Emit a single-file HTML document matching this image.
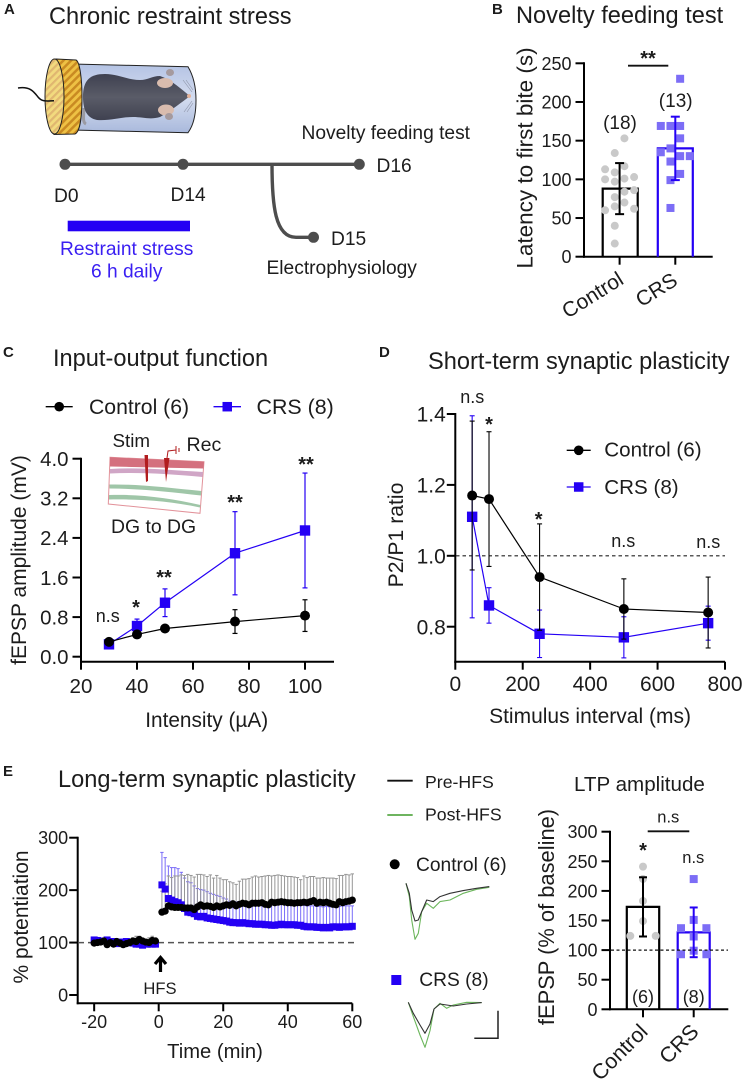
<!DOCTYPE html>
<html lang="en">
<head>
<meta charset="utf-8">
<title>Chronic restraint stress figure</title>
<style>
html,body{margin:0;padding:0;background:#fff;width:744px;height:1087px;overflow:hidden}
svg{display:block;filter:blur(.3px)}
text{font-family:"Liberation Sans",Arial,sans-serif;fill:#1c1c1c}
</style>
</head>
<body>
<svg id="fig" xmlns="http://www.w3.org/2000/svg" width="744" height="1087" viewBox="0 0 744 1087">
<defs>
<pattern id="capStripes" width="5.4" height="5.4" patternUnits="userSpaceOnUse" patternTransform="rotate(45)"><rect width="5.4" height="5.4" fill="#eec144"/><rect width="2.5" height="5.4" fill="#c98a22"/></pattern>
<pattern id="faceStripes" width="5" height="5" patternUnits="userSpaceOnUse" patternTransform="rotate(45)"><rect width="5" height="5" fill="#f2da7e"/><rect width="2.2" height="5" fill="#e0b670"/></pattern>
<linearGradient id="tubeFill" x1="0" y1="0" x2="0" y2="1"><stop offset="0" stop-color="#b4c3e4"/><stop offset=".5" stop-color="#d4dcef"/><stop offset="1" stop-color="#a9b9dc"/></linearGradient>
<linearGradient id="mouseFill" x1="0" y1="0" x2="0" y2="1"><stop offset="0" stop-color="#3f4150"/><stop offset=".5" stop-color="#5a5c68"/><stop offset="1" stop-color="#3f4150"/></linearGradient>
</defs>

<!-- Panel letters and titles -->
<g font-weight="bold" font-size="15">
<text x="4" y="14">A</text>
<text x="492" y="14">B</text>
<text x="3" y="357">C</text>
<text x="379" y="357">D</text>
<text x="3" y="776">E</text>
</g>
<g font-size="23.6">
<text x="49" y="24">Chronic restraint stress</text>
<text x="516" y="23">Novelty feeding test</text>
<text x="53" y="366">Input-output function</text>
<text x="428" y="369">Short-term synaptic plasticity</text>
<text x="58" y="787">Long-term synaptic plasticity</text>
<text x="574" y="791" font-size="20.6">LTP amplitude</text>
</g>

<!-- Panel A illustration -->
<g>
<path d="M72 64 L188 66.7 Q196 80 196 100 Q196 122 188 132.7 L72 130 Z" fill="url(#tubeFill)" stroke="#222" stroke-width="1"/>
<path d="M84 108 C84 115 82 122 86 124" fill="none" stroke="#9a9aa2" stroke-width="3"/>
<path d="M83 97 C83 80 90 74 105 74 C118 74 128 80 140 80 C148 80 152 76 160 76 C172 80 182 90 190 96 C182 102 172 110 160 117 C150 120 143 117 133 117 C120 117 110 121 97 120 C87 118 83 110 83 97Z" fill="url(#mouseFill)"/>
<ellipse cx="165" cy="83" rx="8" ry="5" fill="#d9bcae"/>
<ellipse cx="166" cy="110" rx="8" ry="5.5" fill="#d9bcae"/>
<ellipse cx="170" cy="72.5" rx="4" ry="3.5" fill="#a59a9e"/>
<ellipse cx="169" cy="116.5" rx="4" ry="3.5" fill="#a59a9e"/>
<circle cx="189" cy="96" r="2" fill="#e3b299"/>
<path d="M183 80 L192 92 M186 80 L193 90 M184 112 L192 101 M187 112 L193 103" stroke="#8d94a8" stroke-width=".6" fill="none"/>
<path d="M56 59 L76 60 C80 62 82 80 82 97 C82 116 80 132 75 134 L54 134.5 Z" fill="url(#capStripes)" stroke="#222" stroke-width="1"/>
<ellipse cx="54.5" cy="96.5" rx="9.5" ry="37.5" fill="url(#faceStripes)" stroke="#222" stroke-width="1"/>
<path d="M18 88 C30 86 34 92 38 97 C42 102 46 101 54 100.7" fill="none" stroke="#111" stroke-width="1.5"/>
</g>

<!-- Panel A timeline -->
<g>
<line x1="65" y1="164.3" x2="359" y2="164.3" stroke="#4d4d4d" stroke-width="3.4"/>
<path d="M272 164 C272 205 275 237.3 296 237.3 L313 237.3" fill="none" stroke="#4d4d4d" stroke-width="3.4"/>
<circle cx="65" cy="164.3" r="5.5" fill="#4d4d4d"/>
<circle cx="183" cy="164.3" r="5.5" fill="#4d4d4d"/>
<circle cx="359.3" cy="164.3" r="5.5" fill="#4d4d4d"/>
<circle cx="313.5" cy="237.3" r="5.5" fill="#4d4d4d"/>
<g font-size="19.2">
<text x="54" y="202">D0</text>
<text x="170.5" y="201">D14</text>
<text x="376.5" y="172">D16</text>
<text x="331" y="245">D15</text>
<text x="301.5" y="139">Novelty feeding test</text>
<text x="266.5" y="274">Electrophysiology</text>
</g>
<rect x="67.7" y="220.7" width="122.3" height="10.6" fill="#2400f4"/>
<text x="126.7" y="255" font-size="19.2" text-anchor="middle" style="fill:#3a1ff2">Restraint stress</text>
<text x="126.7" y="277.5" font-size="19.2" text-anchor="middle" style="fill:#3a1ff2">6 h daily</text>
</g>

<!-- Axis titles -->
<g>
<text transform="translate(532.5 158) rotate(-90)" font-size="22.5" text-anchor="middle">Latency to first bite (s)</text>
<text transform="translate(26 560) rotate(-90)" font-size="21" text-anchor="middle">fEPSP amplitude (mV)</text>
<text x="206.7" y="727" font-size="20.8" text-anchor="middle">Intensity (µA)</text>
<text transform="translate(403 535) rotate(-90)" font-size="21.2" text-anchor="middle">P2/P1 ratio</text>
<text x="590" y="723" font-size="21" text-anchor="middle">Stimulus interval (ms)</text>
<text transform="translate(28 917) rotate(-90)" font-size="21" text-anchor="middle">% potentiation</text>
<text x="215" y="1058" font-size="20.2" text-anchor="middle">Time (min)</text>
<text transform="translate(554 917) rotate(-90)" font-size="21.9" text-anchor="middle">fEPSP (% of baseline)</text>
</g>

<!-- Panel B annotations -->
<g>
<line x1="628" y1="65.7" x2="668.3" y2="65.7" stroke="#111" stroke-width="1.8"/>
<text x="648" y="65" font-size="20" font-weight="bold" text-anchor="middle">**</text>
<text x="620" y="129" font-size="19" text-anchor="middle">(18)</text>
<text x="675.7" y="107" font-size="19" text-anchor="middle">(13)</text>
</g>

<!-- Panel C inset and annotations -->
<g>
<path d="M110 457.3 L204 461.7 L200 513.3 L108.3 504 Z" fill="#fff" stroke="#e2929a" stroke-width="1"/>
<path d="M110 457.3 L204 461.7 L203.5 468.5 L110 466.5 Z" fill="#d4707e"/>
<path d="M110 469 C140 467 170 470 203 472 L202.5 477 C170 474 140 472 110 473.5 Z" fill="#d0a6c6"/>
<path d="M109.5 484.5 C140 484 170 488 201.5 491 L201 495.5 C170 492 140 488.5 109.5 488.5 Z" fill="#9fc6a8"/>
<path d="M109 495 C140 494 170 498 200.5 505 L200 507.5 C170 501 140 499 109 499.5 Z" fill="#9fc6a8"/>
<path d="M144.5 455 L148 455 L148 481 L146 482 Z" fill="#b11c1e"/>
<path d="M164 458 L169.5 458 L166 482 Z" fill="#b11c1e"/>
<path d="M167 458 L168 451 L176 450 M176 446 L176 454 M179 448 L179 452" fill="none" stroke="#b11c1e" stroke-width="1"/>
<text x="112.5" y="447" font-size="18.8">Stim</text>
<text x="186.5" y="451" font-size="19.6">Rec</text>
<text x="111" y="533" font-size="19.4">DG to DG</text>
</g>
<g>
<text x="107.7" y="622" font-size="18" text-anchor="middle">n.s</text>
<text x="136" y="614" font-size="20" font-weight="bold" text-anchor="middle">*</text>
<text x="164" y="584" font-size="20" font-weight="bold" text-anchor="middle">**</text>
<text x="235" y="509" font-size="20" font-weight="bold" text-anchor="middle">**</text>
<text x="306" y="471" font-size="20" font-weight="bold" text-anchor="middle">**</text>
</g>

<!-- Panel D annotations -->
<g>
<text x="472.3" y="403" font-size="18" text-anchor="middle">n.s</text>
<text x="489" y="431" font-size="20" font-weight="bold" text-anchor="middle">*</text>
<text x="538.7" y="526" font-size="20" font-weight="bold" text-anchor="middle">*</text>
<text x="623.3" y="547" font-size="18" text-anchor="middle">n.s</text>
<text x="708.3" y="548" font-size="18" text-anchor="middle">n.s</text>
</g>

<!-- Panel E annotations -->
<g>
<path d="M160.5 958 L160.5 972 M155 964 L160.5 957.5 L166 964" fill="none" stroke="#000" stroke-width="3.2"/>
<text x="160" y="994" font-size="16.6" text-anchor="middle">HFS</text>
</g>

<!-- Trace legend -->
<g>
<line x1="387.3" y1="780.7" x2="412.7" y2="780.7" stroke="#111" stroke-width="1.8"/>
<text x="425" y="788" font-size="17.7">Pre-HFS</text>
<line x1="387.3" y1="815" x2="412.7" y2="815" stroke="#5aaa48" stroke-width="1.8"/>
<text x="425" y="820.7" font-size="17.7">Post-HFS</text>
<circle cx="394.7" cy="864.3" r="5" fill="#000"/>
<text x="416" y="871" font-size="19.2">Control (6)</text>
<rect x="391.3" y="975" width="10" height="10" fill="#2400f4"/>
<text x="419.3" y="986" font-size="19.2">CRS (8)</text>
<path d="M498 1010.7 L498 1038.3 L474.3 1038.3" fill="none" stroke="#222" stroke-width="1.5"/>
</g>

<!-- LTP annotations -->
<g>
<line x1="647.7" y1="831.3" x2="689.3" y2="831.3" stroke="#111" stroke-width="1.8"/>
<text x="668.3" y="822.5" font-size="16.5" text-anchor="middle">n.s</text>
<text x="643" y="857" font-size="20" font-weight="bold" text-anchor="middle">*</text>
<text x="693.3" y="863" font-size="16.5" text-anchor="middle">n.s</text>
<text x="643" y="1003" font-size="18" text-anchor="middle">(6)</text>
<text x="693.7" y="1003" font-size="18" text-anchor="middle">(8)</text>
</g>
</svg>

<script>
/* ---------- Panel B data ---------- */
const bCategories = ['Control', 'CRS'];
const bMeans = [88, 140];
const bErrors = [33, 41];
const bControlPoints = [153, 134, 113, 117, 109, 103, 100, 97, 101, 86, 84, 77, 60, 70, 62, 40, 17, 65];
const bControlColumns = [0.5, -0.5, -1.5, 0.5, -0.5, 1.5, -1.5, -0.5, 0.5, 1.5, 0.5, -0.5, -1.5, 0.5, 1.5, -0.5, -0.5, -0.5];
const bCrsPoints = [230, 169, 169, 169, 153, 140, 135, 130, 130, 123, 107, 99, 63];
const bCrsColumns = [0.5, -1.5, -0.5, 0.5, 0.5, -0.5, -1.5, 0.5, 1.5, -0.5, 0.5, -0.5, -0.5];
const bYTicks = ['0', '50', '100', '150', '200', '250'];

/* ---------- Panel C data ---------- */
const cIntensity = [30, 40, 50, 75, 100];
const cControl = [0.30, 0.45, 0.57, 0.71, 0.83];
const cControlErr = [0.05, 0.05, 0.05, 0.24, 0.32];
const cCrs = [0.25, 0.62, 1.09, 2.09, 2.55];
const cCrsErr = [0.05, 0.14, 0.28, 0.84, 1.16];
const cXTicks = ['20', '40', '60', '80', '100'];
const cYTicks = ['0.0', '0.8', '1.6', '2.4', '3.2', '4.0'];
const cLegend = ['Control (6)', 'CRS (8)'];

/* ---------- Panel D data ---------- */
const dInterval = [50, 100, 250, 500, 750];
const dControl = [1.17, 1.16, 0.94, 0.85, 0.84];
const dControlErr = [0.21, 0.19, 0.15, 0.085, 0.10];
const dCrs = [1.11, 0.86, 0.78, 0.77, 0.81];
const dCrsErr = [0.285, 0.05, 0.067, 0.058, 0.048];
const dXTicks = ['0', '200', '400', '600', '800'];
const dYTicks = ['0.8', '1.0', '1.2', '1.4'];
const dLegend = ['Control (6)', 'CRS (8)'];

/* ---------- Panel E time-course data ---------- */
const eTimeBase = [-20,-19,-18,-17,-16,-15,-14,-13,-12,-11,-10,-9,-8,-7,-6,-5,-4,-3,-2,-1];
const eControlBase = [99,100,101,103,96,100,97,102,99,96,98,100,103,102,106,103,101,100,104,103];
const eControlBaseErr = [4,4,5,4,5,4,5,4,5,4,5,5,6,10,6,5,5,9,8,6];
const eCrsBase = [105,104,103,103,105,102,102,98,101,100,102,100,99,97,97,95,97,98,97,97];
const eCrsBaseErr = [4,4,4,4,4,4,4,4,4,4,4,4,4,4,4,4,4,4,4,4];
const eTimePost = [1,2,3,4,5,6,7,8,9,10,11,12,13,14,15,16,17,18,19,20,21,22,23,24,25,26,27,28,29,30,31,32,33,34,35,36,37,38,39,40,41,42,43,44,45,46,47,48,49,50,51,52,53,54,55,56,57,58,59,60];
const eControlPost = [158,160,170,168,167,167,167,166,166,166,163,168,172,169,170,169,167,170,168,170,172,171,174,170,173,175,174,172,175,175,175,176,173,172,177,176,177,178,177,176,176,175,176,176,177,176,178,180,175,177,176,177,175,173,172,178,176,178,179,181];
const eControlPostErr = [40,52,57,56,60,60,62,62,64,62,62,62,58,60,56,60,56,58,55,50,48,45,40,41,44,46,47,50,50,52,50,50,54,56,50,52,52,50,50,50,50,50,48,44,50,48,48,46,48,46,48,46,48,50,50,50,52,52,50,50];
const eCrsPost = [210,202,184,181,178,176,172,165,158,157,155,150,149,150,147,146,145,144,143,142,141,139,138,138,137,138,137,136,136,135,135,135,134,134,133,133,134,135,134,134,134,134,133,133,131,130,130,130,129,129,128,129,128,130,130,129,130,130,130,131];
const eCrsPostErr = [62,60,62,62,65,65,62,58,58,57,53,53,52,50,50,48,47,46,45,43,42,40,40,40,40,40,40,40,40,40,40,40,40,40,40,40,40,40,40,40,40,40,40,40,40,40,40,40,40,40,40,40,40,40,40,40,40,40,40,39];
const eXTicks = ['-20', '0', '20', '40', '60'];
const eYTicks = ['0', '100', '200', '300'];

/* ---------- Example trace data (ms, arbitrary amplitude units) ---------- */
const traceControlTime = [0,10,17,27,37,47,62,82,102,132,172,212,250];
const traceControlPre  = [0,30,80,113,110,85,50,55,40,30,22,15,10];
const traceControlPost = [0,40,110,168,150,85,60,75,55,50,30,18,12];
const traceCrsTime = [0,15,35,50,65,77,95,115,135,175,220];
const traceCrsPre  = [0,33,68,93,65,20,5,8,11,5,1];
const traceCrsPost = [0,43,98,135,85,20,3,18,8,0,1];

/* ---------- LTP data ---------- */
const ltpCategories = ['Control', 'CRS'];
const ltpMeans = [173, 130];
const ltpErrors = [50, 42];
const ltpControlPoints = [241, 220, 183, 149, 124, 124];
const ltpControlColumns = [0, 0, 0, 0, -1, 1];
const ltpCrsPoints = [220, 151, 137, 137, 123, 99, 93, 93];
const ltpCrsColumns = [0, 0, -1, 1, 0, 0, -1, 1];
const ltpYTicks = ['0', '50', '100', '150', '200', '250', '300'];

/* ---------- Helpers ---------- */
const SVGNS = 'http://www.w3.org/2000/svg';
const fig = document.getElementById('fig');
const BLUE = '#2400f4';
const DOT_BLUE = '#7c6df6';
const DOT_GREY = '#c9c9c9';

function add(tag, attrs) {
  const el = document.createElementNS(SVGNS, tag);
  for (const k in attrs) el.setAttribute(k, attrs[k]);
  fig.appendChild(el);
  return el;
}
function linear(d0, d1, r0, r1) {
  return v => r0 + (v - d0) * (r1 - r0) / (d1 - d0);
}

function drawYAxis(sy, ticks, axisX, topY, bottomY, fontSize, labelGap) {
  const axis = add('line', {x1: axisX, x2: axisX, y1: topY - 1, y2: bottomY + 1, stroke: '#000', 'stroke-width': 2});
  
  
  ticks.forEach(label => {
    const y = sy(parseFloat(label));
    const tick = add('line', {x1: axisX - 8.5, x2: axisX, y1: y, y2: y, stroke: '#000', 'stroke-width': 2});
    
    
    const t = add('text', {x: axisX - labelGap, y: y + fontSize * 0.36, 'font-size': fontSize, 'text-anchor': 'end'});
    t.textContent = label;
    
    
  });
}
function drawXAxis(sx, ticks, axisY, leftX, rightX, fontSize, labelY) {
  const axis = add('line', {x1: leftX - 1, x2: rightX, y1: axisY, y2: axisY, stroke: '#000', 'stroke-width': 2});
  
  
  ticks.forEach(label => {
    const x = sx(parseFloat(label));
    const tick = add('line', {x1: x, x2: x, y1: axisY, y2: axisY + 8, stroke: '#000', 'stroke-width': 2});
    
    
    const t = add('text', {x: x, y: labelY, 'font-size': fontSize, 'text-anchor': 'middle'});
    t.textContent = label;
    
    
  });
}
function drawDashedRef(y, x1, x2, color, width, dash) {
  const l = add('line', {x1: x1, x2: x2, y1: y, y2: y, stroke: color, 'stroke-width': width, 'stroke-dasharray': dash});
  
  
}
function drawErr(x, yTop, yBot, color, width, cap) {
  const v = add('line', {x1: x, x2: x, y1: yTop, y2: yBot, stroke: color, 'stroke-width': width});
  
  
  [yTop, yBot].forEach(y => {
    const c = add('line', {x1: x - cap, x2: x + cap, y1: y, y2: y, stroke: color, 'stroke-width': width});
    
    
  });
}
function drawCircle(x, y, r, fill) {
  const c = add('circle', {cx: x, cy: y, r: r, fill: fill});
  
  
}
function drawSquare(x, y, size, fill) {
  const s = add('rect', {x: x - size / 2, y: y - size / 2, width: size, height: size, fill: fill});
  
  
}
function drawLine(xs, ys, sx, sy, color, width) {
  const pts = xs.map((x, i) => sx(x).toFixed(1) + ',' + sy(ys[i]).toFixed(1)).join(' ');
  const p = add('polyline', {points: pts, fill: 'none', stroke: color, 'stroke-width': width, 'stroke-linejoin': 'round'});
  
  
}
function drawSeries(xs, ys, errs, sx, sy, color, shape, errWidth) {
  xs.forEach((x, i) => drawErr(sx(x), sy(ys[i] + errs[i]), sy(ys[i] - errs[i]), color, errWidth, 2.5));
  drawLine(xs, ys, sx, sy, color, 1.2);
  xs.forEach((x, i) => {
    if (shape === 'circle') drawCircle(sx(x), sy(ys[i]), 5, color);
    else drawSquare(sx(x), sy(ys[i]), 10.4, color);
  });
}
function drawLegendEntry(x1, x2, y, textX, textY, fontSize, label, color, shape) {
  const l = add('line', {x1: x1, x2: x2, y1: y, y2: y, stroke: color, 'stroke-width': 1.3});
  
  
  if (shape === 'circle') drawCircle((x1 + x2) / 2, y, 4.8, color);
  else drawSquare((x1 + x2) / 2, y, 9.5, color);
  const t = add('text', {x: textX, y: textY, 'font-size': fontSize});
  t.textContent = label;
  
  
}
function drawBar(cx, halfWidth, value, sy, color) {
  const b = add('path', {d: 'M' + (cx - halfWidth) + ' ' + sy(0) + ' V' + sy(value) + ' H' + (cx + halfWidth) + ' V' + sy(0), fill: 'none', stroke: color, 'stroke-width': 2.2});
  
  
}
function drawCategoryTick(cx, axisY, label, endX, endY, angle, fontSize) {
  const tick = add('line', {x1: cx, x2: cx, y1: axisY, y2: axisY + 8, stroke: '#000', 'stroke-width': 2});
  
  
  const t = add('text', {transform: 'translate(' + endX + ' ' + endY + ') rotate(' + angle + ')', 'font-size': fontSize, 'text-anchor': 'end'});
  t.textContent = label;
  
  
}
function drawTrace(xs, ys, sx, sy, color) {
  const pts = xs.map((x, i) => sx(x).toFixed(1) + ',' + sy(ys[i]).toFixed(1)).join(' ');
  const p = add('polyline', {points: pts, fill: 'none', stroke: color, 'stroke-width': 1.1, 'stroke-linejoin': 'round'});
  
  
}

/* ---------- Panel B ---------- */
(function () {
  const sy = linear(0, 250, 256.7, 63.3);
  const centers = [619.6, 675.3];
  const spacing = 9.67;
  drawYAxis(sy, bYTicks, 584, 63.3, 256.7, 18, 12.5);
  drawXAxis(linear(0, 1, 584, 712.7), [], 256.7, 584, 712.7, 18, 0);
  drawBar(centers[0] + 0.6, 17.5, bMeans[0], sy, '#000');
  drawBar(centers[1], 17.5, bMeans[1], sy, BLUE);
  bControlPoints.forEach((v, i) => drawCircle(centers[0] + bControlColumns[i] * spacing, sy(v), 4, DOT_GREY));
  bCrsPoints.forEach((v, i) => drawSquare(centers[1] + bCrsColumns[i] * spacing, sy(v), 8, DOT_BLUE));
  drawErr(centers[0], sy(bMeans[0] + bErrors[0]), sy(bMeans[0] - bErrors[0]), '#000', 2, 4.5);
  drawErr(centers[1], sy(bMeans[1] + bErrors[1]), sy(bMeans[1] - bErrors[1]), BLUE, 2, 4.5);
  drawCategoryTick(centers[0], 256.7, bCategories[0], 625, 283, -32, 21);
  drawCategoryTick(centers[1], 256.7, bCategories[1], 679, 284, -32, 21);
})();

/* ---------- Panel C ---------- */
(function () {
  const sx = linear(20, 100, 81, 305);
  const sy = linear(0, 4, 656.7, 458.7);
  drawYAxis(sy, cYTicks, 81, 458.7, 661.7, 20.4, 12.5);
  drawXAxis(sx, cXTicks, 661.7, 81, 334, 20.6, 693);
  drawSeries(cIntensity, cCrs, cCrsErr, sx, sy, BLUE, 'square', 1.2);
  drawSeries(cIntensity, cControl, cControlErr, sx, sy, '#000', 'circle', 1.2);
  drawLegendEntry(45.7, 72.7, 406.7, 89, 414, 21.2, cLegend[0], '#000', 'circle');
  drawLegendEntry(213.5, 241, 406.7, 256.5, 414, 21.4, cLegend[1], BLUE, 'square');
})();

/* ---------- Panel D ---------- */
(function () {
  const sx = linear(0, 800, 455.3, 725);
  const sy = linear(0.8, 1.4, 626.7, 414);
  drawYAxis(sy, dYTicks, 455.3, 414, 661.7, 21, 9.5);
  drawXAxis(sx, dXTicks, 661.7, 455.3, 725, 21, 691);
  drawDashedRef(sy(1), 456, 725, '#222', 1.2, '3.5 3');
  drawSeries(dInterval, dCrs, dCrsErr, sx, sy, BLUE, 'square', 1.1);
  drawSeries(dInterval, dControl, dControlErr, sx, sy, '#000', 'circle', 1.1);
  drawLegendEntry(566.7, 590.7, 450.3, 604.3, 456.7, 20.6, dLegend[0], '#000', 'circle');
  drawLegendEntry(566.7, 590.7, 487, 604.3, 494, 20.6, dLegend[1], BLUE, 'square');
})();

/* ---------- Panel E time course ---------- */
(function () {
  const sx = linear(0, 60, 158.7, 352.3);
  const sy = linear(0, 300, 995, 837.7);
  drawYAxis(sy, eYTicks, 77.7, 837.7, 1003.3, 18, 9.5);
  drawXAxis(sx, eXTicks, 1003.3, 77.7, 352.3, 18, 1028);
  drawDashedRef(sy(100), 78, 358, '#555', 1.5, '6 4');

  const upperErr = (xs, ys, errs, color) => xs.forEach((x, i) =>
    drawErr(sx(x), sy(ys[i] + errs[i]), sy(ys[i]), color, 1, 1.7));

  upperErr(eTimePost, eCrsPost, eCrsPostErr, '#7a6cf8');
  upperErr(eTimePost, eControlPost, eControlPostErr, '#969696');
  eTimeBase.forEach((x, i) => drawErr(sx(x), sy(eCrsBase[i] + eCrsBaseErr[i]), sy(eCrsBase[i] - eCrsBaseErr[i]), '#7a6cf8', 1, 1.7));
  eTimeBase.forEach((x, i) => drawErr(sx(x), sy(eControlBase[i] + eControlBaseErr[i]), sy(eControlBase[i] - eControlBaseErr[i]), '#8a8a8a', 1, 1.7));

  eTimeBase.forEach((x, i) => drawSquare(sx(x), sy(eCrsBase[i]), 7, BLUE));
  eTimePost.forEach((x, i) => drawSquare(sx(x), sy(eCrsPost[i]), 7, BLUE));
  eTimeBase.forEach((x, i) => drawCircle(sx(x), sy(eControlBase[i]), 3.6, '#000'));
  eTimePost.forEach((x, i) => drawCircle(sx(x), sy(eControlPost[i]), 3.6, '#000'));
})();

/* ---------- Example traces ---------- */
(function () {
  const controlX = linear(0, 250, 406, 489.3);
  const controlY = linear(0, 168, 883.3, 939.3);
  drawTrace(traceControlTime, traceControlPost, controlX, controlY, '#6cb65c');
  drawTrace(traceControlTime, traceControlPre, controlX, controlY, '#333');
  const crsX = linear(0, 220, 408.3, 481.7);
  const crsY = linear(0, 135, 1002.3, 1047.3);
  drawTrace(traceCrsTime, traceCrsPost, crsX, crsY, '#6cb65c');
  drawTrace(traceCrsTime, traceCrsPre, crsX, crsY, '#333');
})();

/* ---------- LTP bar chart ---------- */
(function () {
  const sy = linear(0, 300, 1009.3, 831.7);
  const centers = [643, 693.7];
  const spacing = 12.7;
  drawYAxis(sy, ltpYTicks, 610, 831.7, 1009.3, 18, 12.5);
  drawXAxis(linear(0, 1, 610, 728.3), [], 1009.3, 610, 728.3, 18, 0);
  drawBar(centers[0], 16.2, ltpMeans[0], sy, '#000');
  drawBar(centers[1], 16, ltpMeans[1], sy, BLUE);
  ltpControlPoints.forEach((v, i) => drawCircle(centers[0] + ltpControlColumns[i] * spacing, sy(v), 4, DOT_GREY));
  ltpCrsPoints.forEach((v, i) => drawSquare(centers[1] + ltpCrsColumns[i] * spacing, sy(v), 8, DOT_BLUE));
  drawDashedRef(sy(100), 611, 728, '#111', 1.2, '3 2.5');
  drawErr(centers[0], sy(ltpMeans[0] + ltpErrors[0]), sy(ltpMeans[0] - ltpErrors[0]), '#000', 2, 4);
  drawErr(centers[1], sy(ltpMeans[1] + ltpErrors[1]), sy(ltpMeans[1] - ltpErrors[1]), BLUE, 2, 4);
  drawCategoryTick(centers[0], 1009.3, ltpCategories[0], 649, 1033, -45, 21.4);
  drawCategoryTick(centers[1], 1009.3, ltpCategories[1], 700, 1033, -45, 21.4);
})();
</script>
</body>
</html>
